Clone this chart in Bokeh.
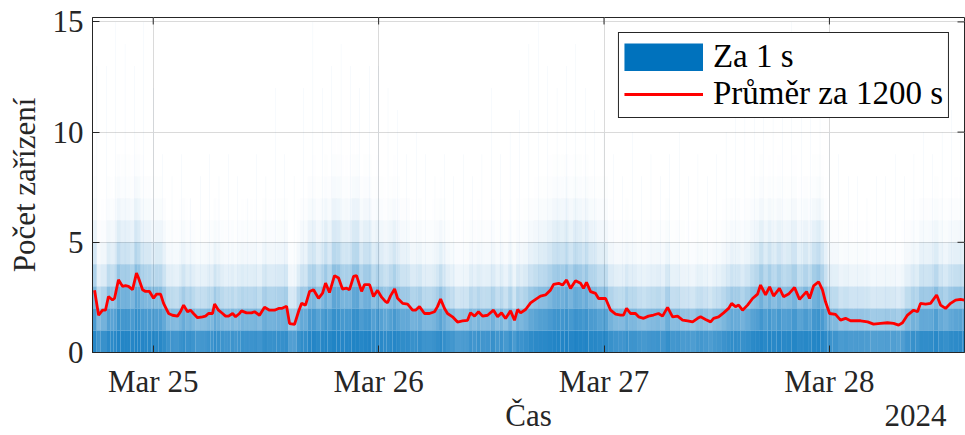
import math
import numpy as np
import pandas as pd
from bokeh.plotting import figure
from bokeh.models import (ColumnDataSource, Range1d, FixedTicker, DatetimeTickFormatter,
                          DatetimeAxis, Legend, LegendItem)
from bokeh.embed import file_html
from bokeh.resources import INLINE

# ---------------- data ----------------
start = pd.Timestamp("2024-03-24 17:30")
view_start_min = 2
view_end_min = 5573

# 1200 s moving average: minutes since start, value
avg_min = [15, 41, 66, 85, 104, 130, 143, 168, 194, 213, 232, 258, 283, 296, 322, 341, 366, 392,
           411, 437, 456, 488, 513, 545, 564, 584, 609, 628, 647, 673, 705, 724, 743, 769, 782,
           807, 833, 852, 871, 897, 916, 941, 954, 986, 1018, 1037, 1069, 1101, 1133, 1165, 1191,
           1210, 1242, 1261, 1293, 1318, 1338, 1363, 1389, 1414, 1446, 1472, 1491, 1516, 1548,
           1574, 1599, 1625, 1644, 1670, 1689, 1721, 1740, 1772, 1797, 1823, 1849, 1874, 1887,
           1906, 1932, 1951, 1983, 2015, 2047, 2066, 2091, 2123, 2155, 2187, 2206, 2226, 2251,
           2270, 2302, 2334, 2366, 2398, 2417, 2443, 2468, 2494, 2526, 2564, 2590, 2615, 2641,
           2673, 2698, 2718, 2737, 2769, 2801, 2833, 2864, 2896, 2928, 2948, 2980, 3005, 3031,
           3056, 3088, 3120, 3139, 3158, 3184, 3216, 3235, 3280, 3312, 3344, 3376, 3395, 3414,
           3439, 3471, 3491, 3523, 3554, 3586, 3618, 3644, 3676, 3708, 3740, 3772, 3804, 3836,
           3868, 3887, 3919, 3951, 3970, 4002, 4034, 4066, 4085, 4110, 4130, 4155, 4187, 4219,
           4251, 4270, 4302, 4328, 4353, 4391, 4417, 4449, 4487, 4519, 4564, 4583, 4609, 4641,
           4666, 4685, 4711, 4749, 4781, 4813, 4845, 4877, 4909, 4954, 4992, 5037, 5081, 5120,
           5152, 5177, 5209, 5248, 5273, 5292, 5324, 5356, 5395, 5420, 5452, 5484, 5516, 5548,
           5573]
avg_val = [2.82, 1.69, 1.92, 1.92, 2.54, 2.38, 2.46, 3.30, 3.00, 3.03, 3.00, 2.85, 3.60, 3.38,
           2.85, 2.77, 2.77, 2.46, 2.65, 2.65, 2.23, 1.77, 1.69, 1.65, 1.85, 2.15, 1.85, 1.92,
           1.77, 1.58, 1.62, 1.65, 1.77, 1.77, 2.20, 1.92, 1.77, 1.65, 1.65, 1.77, 1.62, 1.77,
           1.89, 1.80, 1.80, 1.85, 1.69, 2.05, 1.92, 1.92, 2.00, 2.00, 2.10, 1.31, 1.28, 1.85,
           2.23, 2.15, 2.77, 2.85, 2.46, 2.69, 3.15, 2.72, 3.49, 3.38, 2.88, 2.92, 2.85, 3.45,
           3.49, 2.77, 3.08, 3.08, 2.54, 2.82, 2.51, 2.31, 2.26, 2.57, 2.88, 2.46, 2.23, 2.20,
           1.92, 1.92, 2.08, 1.77, 1.77, 1.85, 2.08, 2.42, 2.00, 1.77, 1.62, 1.38, 1.43, 1.46,
           1.80, 1.65, 1.85, 1.65, 1.69, 1.92, 1.62, 1.80, 1.54, 1.89, 1.46, 1.95, 1.80, 1.95,
           2.25, 2.41, 2.56, 2.61, 2.83, 3.09, 3.14, 3.06, 3.29, 2.91, 3.26, 3.14, 2.91, 3.18,
           2.76, 2.68, 2.45, 2.45, 1.92, 1.74, 1.70, 1.70, 2.00, 1.77, 1.77, 1.62, 1.55, 1.65,
           1.70, 1.77, 1.65, 2.05, 1.62, 1.65, 1.47, 1.44, 1.39, 1.55, 1.62, 1.50, 1.39, 1.55,
           1.62, 1.80, 2.00, 2.23, 2.08, 2.15, 1.92, 2.15, 2.45, 2.65, 3.06, 2.61, 2.98, 2.56,
           2.91, 2.53, 2.65, 2.95, 2.41, 2.76, 2.45, 3.02, 3.21, 2.83, 2.30, 1.77, 1.73, 1.47,
           1.55, 1.44, 1.44, 1.44, 1.39, 1.29, 1.32, 1.35, 1.32, 1.24, 1.35, 1.70, 1.92, 1.85,
           2.23, 2.20, 2.23, 2.61, 2.15, 2.00, 2.23, 2.38, 2.41, 2.38]

# highest 1 s count seen in each hour (hours since start)
hour_peak = [13, 13, 15, 14, 13, 15, 12, 9, 8, 9, 7, 8, 9, 8, 9, 8, 7, 9, 8, 12, 9, 8, 12,
             15, 12, 13, 14, 13, 12, 13, 13, 12, 11, 9, 10, 9, 8, 9, 8, 9, 8, 9, 12, 9, 10, 11,
             14, 15, 13, 12, 13, 14, 12, 11, 10, 9, 8, 10, 8, 9, 8, 9, 10, 8, 9, 8, 9, 10, 11,
             11, 12, 11, 13, 12, 15, 12, 11, 11, 10, 9, 8, 8, 7, 8, 8, 9, 8, 9, 10, 9, 10, 11, 10]

day_ticks = ["2024-03-25", "2024-03-26", "2024-03-27", "2024-03-28"]
y_ticks = [0, 5, 10, 15]
x_label = "Čas"
year_label = "2024"
y_label = "Počet zařízení"

# ---------------- styling ----------------
FONT = "Liberation Serif"
FS = "31px"
TXT = "#262626"
BLUE = "#0072BD"
W, H = 965, 435
FRAME_W, FRAME_H = 872, 336
Y_TOP = 15.2


def tail(k, m):
    return 1.0 - sum(math.exp(-m) * m ** i / math.factorial(i) for i in range(k))


t_avg = start + pd.to_timedelta(avg_min, unit="min")
mins = np.array(avg_min, dtype=float)
edges = np.concatenate([[view_start_min], (mins[:-1] + mins[1:]) / 2, [view_end_min]])

L, R, B, T, A = [], [], [], [], []
for j, m in enumerate(avg_val):
    for k in range(1, 16):
        a = 0.9 * tail(k, m) ** 0.9
        if a < 0.004:
            break
        L.append(start + pd.Timedelta(minutes=float(edges[j])))
        R.append(start + pd.Timedelta(minutes=float(edges[j + 1])))
        B.append(k - 1)
        T.append(k)
        A.append(a)
band_src = ColumnDataSource(dict(left=L, right=R, bottom=B, top=T, alpha=A))

hour_t = [start + pd.Timedelta(minutes=60 * i + 30) for i in range(len(hour_peak))]
peak_src = ColumnDataSource(dict(x=hour_t, top=hour_peak))

x0 = start + pd.Timedelta(minutes=view_start_min)
x1 = start + pd.Timedelta(minutes=view_end_min)
x0_ms = int(x0.value // 10**6)
x1_ms = int(x1.value // 10**6)

p = figure(width=W, height=H, x_axis_type="datetime", output_backend="svg",
           toolbar_location=None, x_range=Range1d(x0, x1), y_range=Range1d(0, Y_TOP),
           min_border_left=92, min_border_right=1, min_border_top=17, min_border_bottom=82)
p.background_fill_color = "white"
p.border_fill_color = "white"
p.outline_line_color = TXT
p.outline_line_width = 1
p.outline_line_alpha = 1

tick_ms = [int(pd.Timestamp(d).value // 10**6) for d in day_ticks]
p.grid.grid_line_color = "#dadada"
p.grid.grid_line_width = 1
p.xgrid.ticker = FixedTicker(ticks=tick_ms)
p.ygrid.ticker = FixedTicker(ticks=y_ticks)

p.quad(left="left", right="right", bottom="bottom", top="top", source=band_src,
       fill_color=BLUE, fill_alpha="alpha", line_color=None)
p.vbar(x="x", top="top", bottom=0, width=pd.Timedelta(minutes=2).total_seconds() * 1000,
       source=peak_src, fill_color=BLUE, fill_alpha=0.10, line_color=None)
# legend swatch for the bars: a thick butt-capped stroke, as wide as the legend glyph
swatch = p.line(x=[np.nan], y=[np.nan], line_color=BLUE, line_width=28, line_cap="butt")
line_r = p.line(t_avg, avg_val, line_color="#FF0000", line_width=2.8)

# inward tick marks on the top and right edges of the box
tick_len_y = Y_TOP * 7 / FRAME_H
tick_len_x = (x1_ms - x0_ms) * 7 / FRAME_W
p.segment(x0=tick_ms, x1=tick_ms, y0=[Y_TOP] * len(tick_ms), y1=[Y_TOP - tick_len_y] * len(tick_ms),
          line_color=TXT, line_width=1)
p.segment(x0=[x1_ms] * len(y_ticks), x1=[x1_ms - tick_len_x] * len(y_ticks), y0=y_ticks, y1=y_ticks,
          line_color=TXT, line_width=1)

# axes
fmt = DatetimeTickFormatter(days="%b %d", months="%b %d", hours="%b %d", years="%b %d")
for ax in p.xaxis:
    ax.ticker = FixedTicker(ticks=tick_ms)
    ax.formatter = fmt
for ax in p.yaxis:
    ax.ticker = FixedTicker(ticks=y_ticks)
    ax.axis_label = y_label

for ax in list(p.xaxis) + list(p.yaxis):
    ax.major_label_text_font = FONT
    ax.major_label_text_font_size = FS
    ax.major_label_text_color = TXT
    ax.axis_label_text_font = FONT
    ax.axis_label_text_font_size = FS
    ax.axis_label_text_font_style = "normal"
    ax.axis_label_text_color = TXT
    ax.axis_line_color = TXT
    ax.major_tick_line_color = TXT
    ax.major_tick_in = 7
    ax.major_tick_out = 0
    ax.minor_tick_line_color = None
p.xaxis.major_label_standoff = 11
p.yaxis.major_label_standoff = 9
p.yaxis.axis_label_standoff = 8

# second row under the date labels: axis title in the middle, year at the right end
mid_ms = (x0_ms + x1_ms) // 2
year_ms = int(x1_ms - (x1_ms - x0_ms) * 49 / FRAME_W)
label_ax = DatetimeAxis(ticker=FixedTicker(ticks=[mid_ms, year_ms]),
                        major_label_overrides={mid_ms: x_label, year_ms: year_label},
                        axis_line_color=None, major_tick_line_color=None,
                        major_tick_in=0, major_tick_out=0,
                        minor_tick_line_color=None, major_label_standoff=-4,
                        major_label_text_font=FONT, major_label_text_font_size=FS,
                        major_label_text_color=TXT)
p.add_layout(label_ax, "below")

legend = Legend(items=[LegendItem(label="Za 1 s", renderers=[swatch]),
                       LegendItem(label="Průměr za 1200 s", renderers=[line_r])],
                location="top_right", margin=15, padding=5, spacing=0,
                glyph_width=79, glyph_height=28, label_height=28, label_standoff=10,
                label_text_font=FONT, label_text_font_size="33px", label_text_color="black",
                border_line_color=TXT, border_line_width=1, border_line_alpha=1,
                background_fill_color="white", background_fill_alpha=1)
p.add_layout(legend)

open("out.html", "w").write(file_html(p, INLINE))
